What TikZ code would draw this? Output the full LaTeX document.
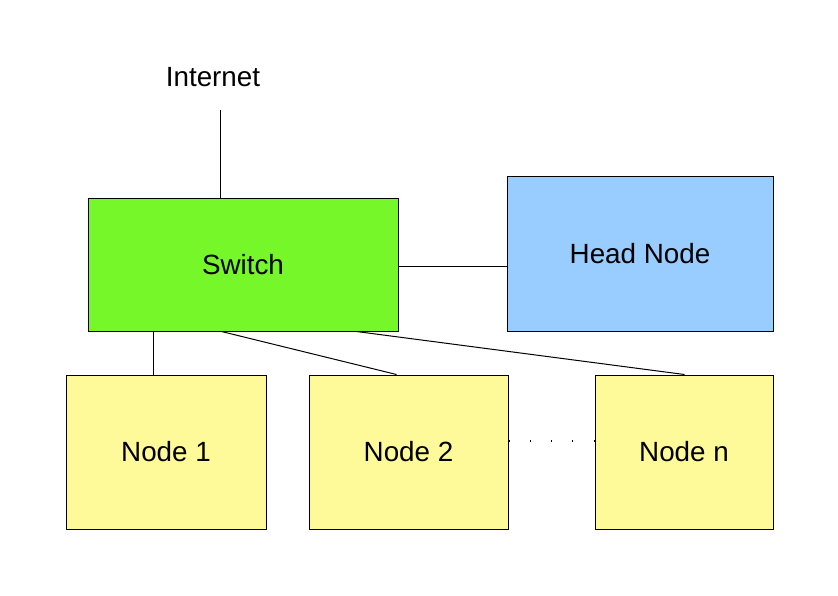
\documentclass[tikz,border=0pt]{standalone}
\usepackage{fontspec}
\setmainfont{Liberation Sans}
\definecolor{swgreen}{HTML}{76F72A}
\definecolor{headblue}{HTML}{99CCFF}
\definecolor{nodeyellow}{HTML}{FFFA99}
\begin{document}
\begin{tikzpicture}[x=1pt,y=-1pt,
  box/.style={draw=black, line width=1pt, inner sep=0pt, font=\fontsize{27.8}{32}\selectfont},
  link/.style={draw=black, line width=1pt},
  dotlink/.style={draw=black, line width=1.2pt, dash pattern=on 1pt off 20.3pt}]
\useasboundingbox[fill=white] (0,0) rectangle (838,595);
\node[font=\fontsize{27.8}{32}\selectfont] (inet) at (213,77) {Internet};
\coordinate (itop) at (220,110);
\node[box, fill=swgreen, minimum width=310pt, minimum height=133pt] (sw) at (243,264.5) {Switch};
\node[box, fill=headblue, minimum width=266pt, minimum height=155pt] (hn) at (640,253.5) {Head Node};
\node[box, fill=nodeyellow, minimum width=200pt, minimum height=154pt] (n1) at (166,452) {Node 1};
\node[box, fill=nodeyellow, minimum width=199pt, minimum height=154pt] (n2) at (408.5,452) {Node 2};
\node[box, fill=nodeyellow, minimum width=178pt, minimum height=154pt] (nn) at (684,452) {Node n};
\draw[link] (itop) -- (itop |- sw.north);
\draw[link] ([yshift=-1.5pt]sw.east) -- ([yshift=-1.5pt]sw.east -| hn.west);
\draw[link] ([xshift=66pt]sw.south west) -- ([xshift=88pt]n1.north west);
\draw[link] ([xshift=134pt]sw.south west) -- ([xshift=88pt]n2.north west);
\draw[link] ([xshift=269pt]sw.south west) -- ([xshift=90pt]nn.north west);
\draw[dotlink] ([yshift=11pt]n2.east) -- ([yshift=11pt]nn.west);
\end{tikzpicture}
\end{document}
